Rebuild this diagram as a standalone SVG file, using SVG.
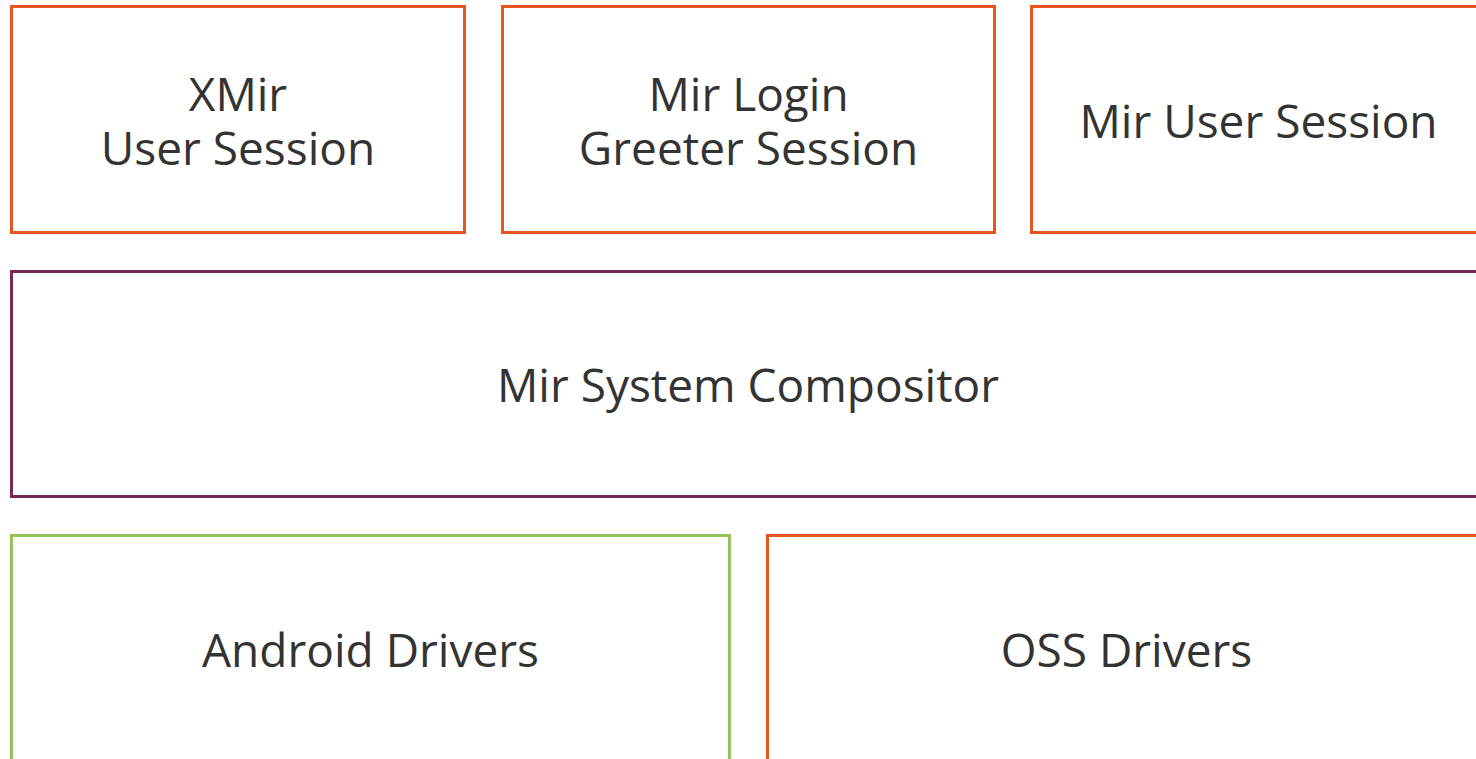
<svg xmlns="http://www.w3.org/2000/svg" width="1476" height="759" viewBox="0 0 1476 759">
<style>
rect{fill:#ffffff;stroke-width:3}
.o{stroke:#e95420}
.p{stroke:#772953}
.g{stroke:#95c15b}
text{font-family:"Open Sans","Noto Sans",sans-serif;font-size:46px;fill:#333333;text-anchor:middle}
</style>
<rect width="1476" height="759" fill="#ffffff" style="stroke:none"/>
<g id="xmir"><rect class="o" x="11.5" y="6.5" width="453" height="226"/><text x="238" y="111">XMir<tspan x="238" y="165">User Session</tspan></text></g>
<g id="login"><rect class="o" x="502.5" y="6.5" width="492" height="226"/><text x="748.5" y="111">Mir Login<tspan x="748.5" y="165">Greeter Session</tspan></text></g>
<g id="user"><rect class="o" x="1031.5" y="6.5" width="454" height="226"/><text x="1258.5" y="138">Mir User Session</text></g>
<g id="compositor"><rect class="p" x="11.5" y="271.5" width="1473" height="225"/><text x="748" y="402">Mir System Compositor</text></g>
<g id="android"><rect class="g" x="11.5" y="535.5" width="718" height="240"/><text x="370.5" y="667">Android Drivers</text></g>
<g id="oss"><rect class="o" x="767.5" y="535.5" width="718" height="240"/><text x="1126.5" y="667">OSS Drivers</text></g>
<g id="connectors"/>
</svg>
